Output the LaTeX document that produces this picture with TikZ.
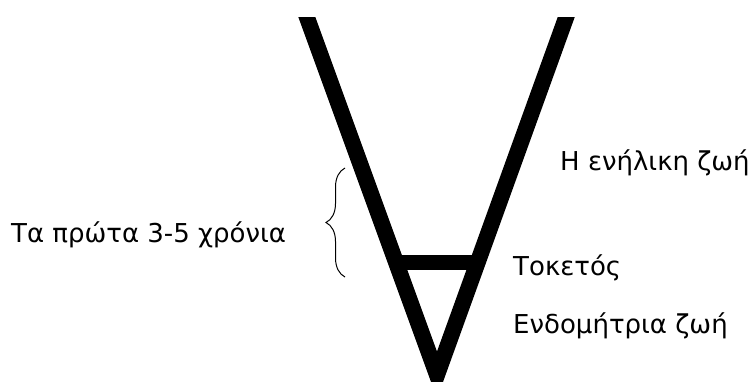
\documentclass[tikz,border=0pt]{standalone}
\usepackage{fontspec}
\setmainfont{DejaVu Sans}
\usetikzlibrary{decorations.pathreplacing}
\begin{document}
\begin{tikzpicture}[x=1pt,y=-1pt,
  lbl/.style={anchor=base west,inner sep=0pt,font=\fontsize{26}{30}\selectfont},
  thick bar/.style={line width=16pt,line join=miter,miter limit=20},
  bracestyle/.style={line width=1pt,decorate,decoration={brace,amplitude=19pt}}]
\useasboundingbox (0,0) rectangle (754,381);
\begin{scope}
  \clip (0,17) rectangle (754,381);
  \draw[thick bar] (297,-10) -- (437,375) -- (576,-10);
\end{scope}
\draw[line width=15pt] (396,262) -- (478,262);
\draw[bracestyle] (345,277) -- (345,168);
\node[lbl] (adult) at (560,170) {Η ενήλικη ζωή};
\node[lbl] (early) at (11,242) {Τα πρώτα 3-5 χρόνια};
\node[lbl] (birth) at (513,275) {Τοκετός};
\node[lbl] (womb) at (513,333) {Ενδομήτρια ζωή};
\end{tikzpicture}
\end{document}
